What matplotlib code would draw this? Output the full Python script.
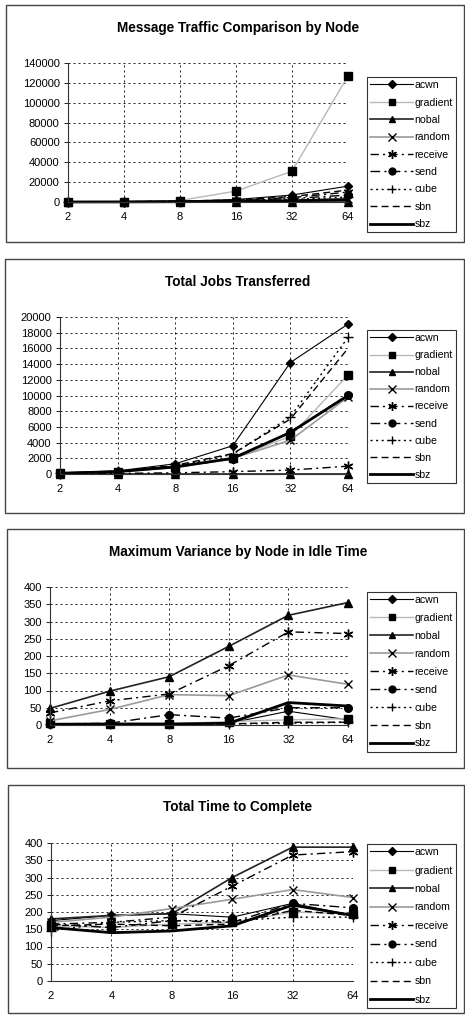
import matplotlib.pyplot as plt
import numpy as np
from matplotlib.patches import Rectangle

plt.rcParams['font.family'] = ['Liberation Sans', 'DejaVu Sans']

W, H = 465, 1017

nodes = ['2', '4', '8', '16', '32', '64']
series = ['acwn', 'gradient', 'nobal', 'random', 'receive', 'send', 'cube', 'sbn', 'sbz']

# message traffic
msg_acwn = [100, 300, 900, 2500, 7000, 16000]
msg_gradient = [150, 400, 1500, 11000, 31000, 127000]
msg_nobal = [0, 0, 0, 0, 0, 0]
msg_random = [100, 200, 500, 1000, 2000, 3000]
msg_receive = [100, 300, 700, 1800, 4500, 10000]
msg_send = [100, 300, 700, 1500, 3500, 7000]
msg_cube = [50, 150, 400, 1000, 2500, 5000]
msg_sbn = [100, 300, 900, 2000, 5500, 12000]
msg_sbz = [50, 100, 300, 600, 1200, 2500]

# total jobs transferred
jobs_acwn = [150, 400, 1300, 3600, 14200, 19100]
jobs_gradient = [100, 300, 900, 2000, 4800, 12600]
jobs_nobal = [0, 0, 0, 0, 0, 0]
jobs_random = [100, 300, 800, 2000, 4300, 9800]
jobs_receive = [50, 80, 150, 300, 500, 1000]
jobs_send = [100, 300, 900, 1900, 5300, 10100]
jobs_cube = [100, 350, 1000, 2500, 7300, 17400]
jobs_sbn = [100, 350, 1100, 2600, 7000, 16000]
jobs_sbz = [100, 300, 900, 2000, 5300, 10000]

# maximum variance in idle time
var_acwn = [2, 3, 3, 5, 40, 15]
var_gradient = [5, 3, 3, 10, 15, 18]
var_nobal = [48, 98, 140, 228, 318, 355]
var_random = [12, 45, 88, 85, 145, 118]
var_receive = [35, 70, 90, 172, 270, 265]
var_send = [3, 5, 30, 20, 50, 50]
var_cube = [2, 2, 3, 3, 5, 8]
var_sbn = [2, 2, 2, 3, 8, 8]
var_sbz = [2, 3, 3, 5, 65, 55]

# total time to complete
time_acwn = [175, 190, 195, 185, 225, 190]
time_gradient = [160, 155, 165, 170, 200, 195]
time_nobal = [180, 190, 195, 300, 388, 388]
time_random = [170, 185, 210, 237, 265, 242]
time_receive = [165, 170, 185, 275, 365, 375]
time_send = [165, 155, 175, 170, 225, 212]
time_cube = [145, 170, 175, 175, 185, 185]
time_sbn = [160, 165, 160, 165, 205, 190]
time_sbz = [155, 140, 145, 160, 220, 190]

styles = {
    'acwn': dict(color='black', lw=0.8, ls='-', marker='D', ms=4.5),
    'gradient': dict(color='#b8b8b8', lw=1.0, ls='-', marker='s', ms=5.5),
    'nobal': dict(color='#222222', lw=1.2, ls='-', marker='^', ms=5.5),
    'random': dict(color='#9a9a9a', lw=1.2, ls='-', marker='x', ms=6),
    'receive': dict(color='black', lw=1.0, ls=(0, (6, 3, 1.5, 3)), marker=(6, 2, 0), ms=7),
    'send': dict(color='black', lw=1.0, ls=(0, (7, 3, 1.5, 3)), marker='o', ms=5.5),
    'cube': dict(color='black', lw=1.0, ls=(0, (1.5, 2.5)), marker='+', ms=6.5),
    'sbn': dict(color='black', lw=1.0, ls=(0, (5, 3)), marker=None, ms=0),
    'sbz': dict(color='black', lw=2.0, ls='-', marker=None, ms=0),
}


def fx(x):
    return x / W


def fy(y):
    return 1 - y / H


def panel(fig, title, data, ymax, ystep, border, ax_box, title_y, leg_xy, spacing):
    bx0, by0, bx1, by1 = border
    fig.patches.append(Rectangle((fx(bx0), fy(by1)), fx(bx1) - fx(bx0), fy(by0) - fy(by1),
                                 transform=fig.transFigure, fill=False,
                                 edgecolor='#444444', lw=1.0))
    fig.text(fx(238), fy(title_y), title, ha='center', va='center',
             fontsize=9.8, fontweight='bold')
    x0, y0, x1, y1 = ax_box
    ax = fig.add_axes([fx(x0), fy(y1), fx(x1) - fx(x0), fy(y0) - fy(y1)])
    pos = np.arange(len(nodes))
    handles = []
    for name, vals in zip(series, data):
        st = styles[name]
        h, = ax.plot(pos, vals, color=st['color'], lw=st['lw'], ls=st['ls'],
                     marker=st['marker'], ms=st['ms'], mfc='black', mec='black',
                     mew=1.0, label=name, clip_on=False)
        handles.append(h)
    ax.set_xlim(0, len(nodes) - 1)
    ax.set_ylim(0, ymax)
    ax.set_xticks(pos)
    ax.set_xticklabels(nodes)
    ax.set_yticks(np.arange(0, ymax + 1, ystep))
    ax.grid(True, color='black', ls=(0, (2.5, 3.5)), lw=0.6)
    for s in ['top', 'right']:
        ax.spines[s].set_visible(False)
    for s in ['left', 'bottom']:
        ax.spines[s].set_color('#333333')
        ax.spines[s].set_linewidth(0.8)
    ax.tick_params(labelsize=8, length=3, width=0.6, pad=3)
    ax.tick_params(axis='x', length=0, pad=7)
    lx0, ly0 = leg_xy
    leg = fig.legend(handles=handles, loc='upper left',
                     bbox_to_anchor=(fx(lx0), fy(ly0)), borderaxespad=0,
                     fontsize=7.6, frameon=True, fancybox=False,
                     handlelength=4.1, handletextpad=0.1, labelspacing=spacing,
                     borderpad=0.3, markerscale=0.9)
    leg.get_frame().set_edgecolor('black')
    leg.get_frame().set_linewidth(0.8)
    return ax


fig = plt.figure(figsize=(W / 100, H / 100), dpi=100)

panel(fig, 'Message Traffic Comparison by Node',
      [msg_acwn, msg_gradient, msg_nobal, msg_random, msg_receive, msg_send, msg_cube, msg_sbn, msg_sbz],
      140000, 20000, (6, 5, 464, 242), (68, 63, 348, 202), 28, (367, 77), 0.70)
panel(fig, 'Total Jobs Transferred',
      [jobs_acwn, jobs_gradient, jobs_nobal, jobs_random, jobs_receive, jobs_send, jobs_cube, jobs_sbn, jobs_sbz],
      20000, 2000, (5, 259, 464, 513), (60, 317, 348, 474), 282, (367, 330), 0.67)
panel(fig, 'Maximum Variance by Node in Idle Time',
      [var_acwn, var_gradient, var_nobal, var_random, var_receive, var_send, var_cube, var_sbn, var_sbz],
      400, 50, (7, 529, 464, 768), (50, 587, 348, 725), 552, (367, 592), 0.75)
panel(fig, 'Total Time to Complete',
      [time_acwn, time_gradient, time_nobal, time_random, time_receive, time_send, time_cube, time_sbn, time_sbz],
      400, 50, (8, 785, 464, 1013), (51, 843, 353, 981), 807, (367, 844), 0.80)

fig.savefig('out.png', dpi=100)
